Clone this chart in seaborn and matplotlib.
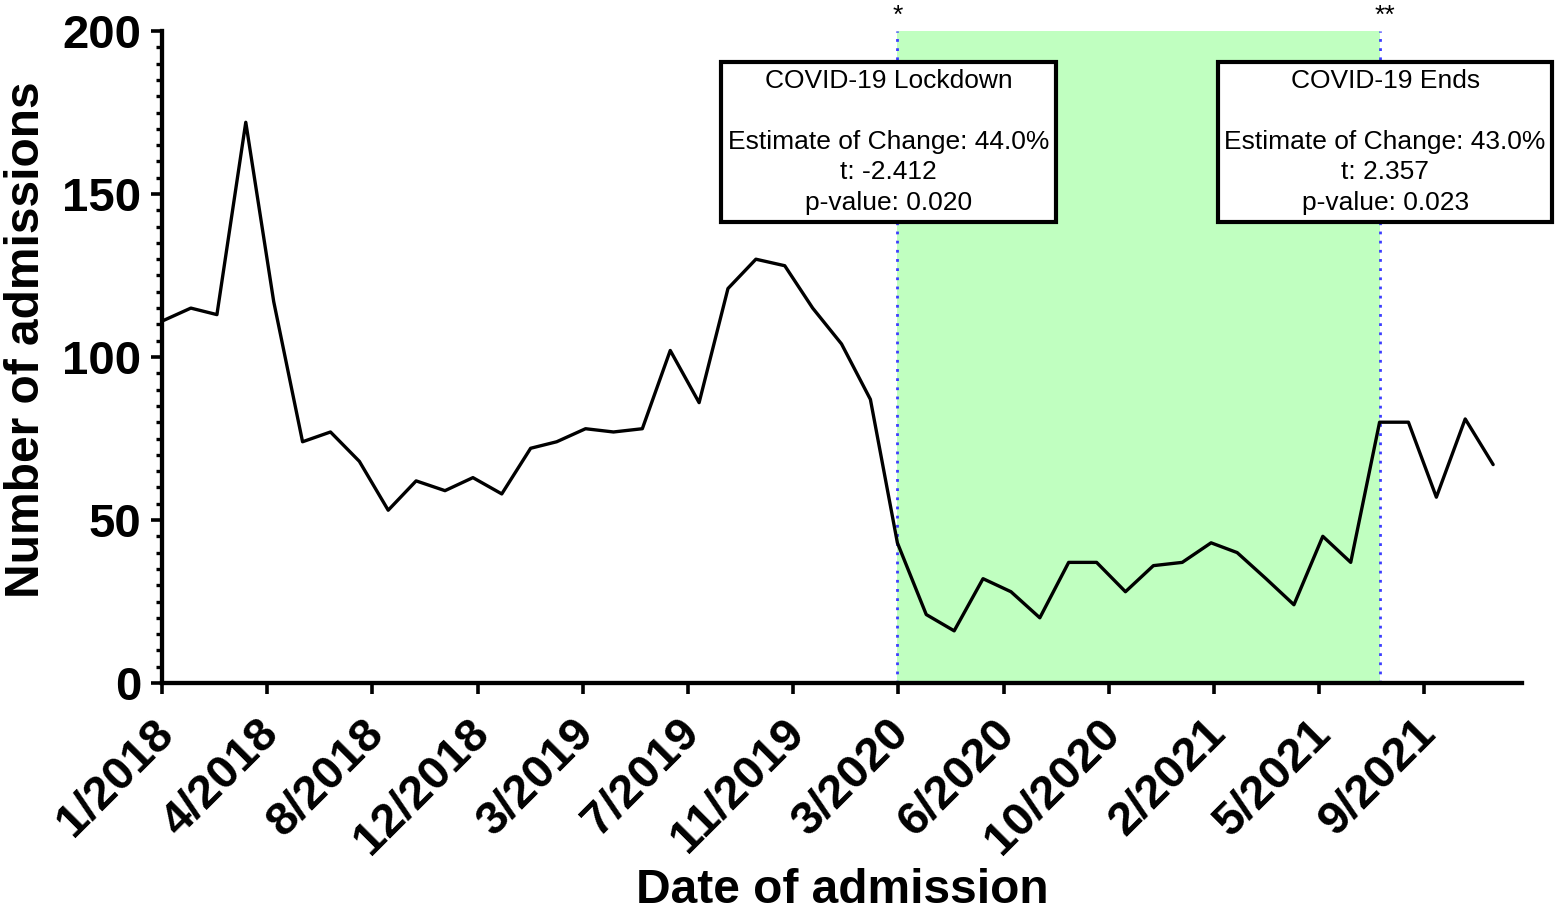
import pandas as pd
import matplotlib.pyplot as plt
import matplotlib.ticker as mticker
import matplotlib.transforms as mtransforms
import seaborn as sns

# -------------------
# data (monthly admissions)
# -------------------
months = pd.date_range('2018-01-01', '2021-12-01', freq='MS')
admissions = [
    111, 115, 113, 172, 117, 74, 77, 68, 53, 62, 59, 63,      # 2018
    58, 72, 74, 78, 77, 78, 102, 86, 121, 130, 128, 115,      # 2019
    104, 87, 43, 21, 16, 32, 28, 20, 37, 37, 28, 36,          # 2020
    37, 43, 40, 32, 24, 45, 37, 80, 80, 57, 81, 67,           # 2021
]
tick_labels = ['1/2018', '4/2018', '8/2018', '12/2018', '3/2019', '7/2019',
               '11/2019', '3/2020', '6/2020', '10/2020', '2/2021', '5/2021',
               '9/2021']
lockdown_start = pd.Timestamp('2020-03-01')
lockdown_end = pd.Timestamp('2021-08-01')
lockdown_text = 'COVID-19 Lockdown\n\nEstimate of Change: 44.0%\nt: -2.412\np-value: 0.020'
ends_text = 'COVID-19 Ends\n\nEstimate of Change: 43.0%\nt: 2.357\np-value: 0.023'

df = pd.DataFrame({'date': months, 'admissions': admissions})

# -------------------
# style
# -------------------
sns.set_style('ticks', {'axes.edgecolor': 'black', 'text.color': 'black',
                        'axes.labelcolor': 'black', 'xtick.color': 'black',
                        'ytick.color': 'black'})
plt.rcParams['font.family'] = ['Liberation Sans', 'DejaVu Sans']

W, H = 1562, 911
fig = plt.figure(figsize=(W / 100, H / 100), dpi=100)
ax = fig.add_axes([162 / W, 1 - 683 / H, 1360 / W, 652 / H])

# shaded period + event lines
ax.axvspan(lockdown_start, lockdown_end, color='#c0ffc0', lw=0, zorder=0)
for d in (lockdown_start, lockdown_end):
    ax.axvline(d, color='#3c3cff', lw=2, ls=(0, (1, 2.3)), zorder=1)

sns.lineplot(data=df, x='date', y='admissions', color='black', lw=2.4, ax=ax, zorder=3)

# axes
x0 = pd.Timestamp('2018-01-01')
ax.set_xlim(x0, pd.Timestamp('2022-01-01'))
ax.set_ylim(0, 200)
ax.set_xticks([x0 + pd.Timedelta(days=113 * k) for k in range(len(tick_labels))])
ax.set_xticklabels(tick_labels)
ax.yaxis.set_major_locator(mticker.MultipleLocator(50))
ax.yaxis.set_minor_locator(mticker.MultipleLocator(5))

sns.despine(ax=ax)
for s in ('left', 'bottom'):
    ax.spines[s].set_linewidth(3.1)
ax.tick_params(axis='both', which='major', length=8, width=2.6, labelsize=34, pad=7)
ax.tick_params(axis='y', which='minor', length=4.5, width=2.4)
ax.tick_params(axis='x', pad=12)
shift = mtransforms.ScaledTranslation(-11 / 100, 0, fig.dpi_scale_trans)
for lab in ax.get_xticklabels():
    lab.set_rotation(45)
    lab.set_ha('right')
    lab.set_va('top')
    lab.set_rotation_mode('anchor')
    lab.set_fontweight('bold')
    lab.set_transform(lab.get_transform() + shift)
for lab in ax.get_yticklabels():
    lab.set_fontweight('bold')

ax.set_xlabel('Date of admission', fontsize=34.5, fontweight='bold', va='top')
ax.set_ylabel('Number of admissions', fontsize=34.5, fontweight='bold')
ax.xaxis.set_label_coords(0.5, -0.284)
ax.yaxis.set_label_coords(-0.083, 0.527)

# annotations
box = dict(boxstyle='square,pad=0.25', fc='white', ec='black', lw=3)
ax.annotate(lockdown_text, xy=(lockdown_start, 166), xytext=(-6.5, 0),
            textcoords='offset points', ha='center', va='center',
            fontsize=19, linespacing=1.35, bbox=box, zorder=5)
ax.annotate(ends_text, xy=(lockdown_end, 166), xytext=(4, 0),
            textcoords='offset points', ha='center', va='center',
            fontsize=19, linespacing=1.35, bbox=box, zorder=5)
ax.annotate('*', xy=(lockdown_start, 202.5), ha='center', va='baseline',
            fontsize=19, annotation_clip=False)
ax.annotate('**', xy=(lockdown_end, 202.5), xytext=(3.5, 0),
            textcoords='offset points', ha='center', va='baseline',
            fontsize=19, annotation_clip=False)

fig.savefig('out.png', dpi=100)
